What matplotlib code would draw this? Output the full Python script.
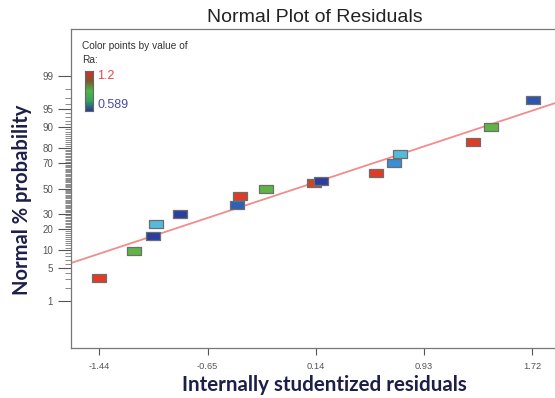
import numpy as np
import matplotlib
matplotlib.use("Agg")
import matplotlib.pyplot as plt
from matplotlib.colors import LinearSegmentedColormap, Normalize
from matplotlib.path import Path
from statistics import NormalDist

# ---- data ----
resid = [-1.444, -1.188, -1.047, -1.028, -0.853, -0.434, -0.415, -0.227,
         0.125, 0.176, 0.576, 0.711, 0.753, 1.288, 1.417, 1.724]
prob_pct = [3.24, 9.7, 16.4, 23.2, 29.6, 36.7, 43.7, 49.7,
            54.9, 56.2, 62.6, 69.9, 76.3, 83.2, 90.0, 96.7]
ra_values = [1.19, 0.90, 0.60, 0.77, 0.60, 0.66, 1.19, 0.90,
             1.12, 0.60, 1.19, 0.72, 0.77, 1.19, 0.90, 0.64]
ra_min, ra_max = 0.589, 1.2

line_x = [-1.648, 1.93]
line_pct = [6.14, 96.48]

x_ticks = [-1.44, -0.65, 0.14, 0.93, 1.72]
x_tick_labels = ["-1.44", "-0.65", "0.14", "0.93", "1.72"]
y_ticks = [1, 5, 10, 20, 30, 50, 70, 80, 90, 95, 99]
y_minor = list(range(2, 99))

# ---- scales ----
nd = NormalDist()

def fwd(p):
    p = np.clip(np.asarray(p, dtype=float), 1e-6, 100 - 1e-6) / 100.0
    return np.vectorize(nd.inv_cdf, otypes=[float])(p)

def inv(z):
    z = np.asarray(z, dtype=float)
    return np.vectorize(nd.cdf, otypes=[float])(z) * 100.0

cmap_pts = LinearSegmentedColormap.from_list(
    "pts", [(0.0, "#2b3a9c"), (0.12, "#2e62b8"), (0.22, "#3a94d8"),
            (0.32, "#5cc8dc"), (0.5, "#5cb846"), (0.8, "#c04a2a"),
            (1.0, "#e23a26")])
cmap_bar = LinearSegmentedColormap.from_list(
    "bar", ["#2a3a9a", "#3aa060", "#4cb848", "#7a5a30", "#e02a2a"])
norm = Normalize(ra_min, ra_max)

fig = plt.figure(figsize=(5.55, 3.98), dpi=100)
ax = fig.add_axes([0.1279, 0.1256, 0.883, 0.8015])
ax.set_yscale("function", functions=(fwd, inv))

# fit line
ax.plot(line_x, line_pct, color="#f28c8c", lw=1.3, zorder=2)

# rectangle marker
rect = Path([(-1, -0.55), (1, -0.55), (1, 0.55), (-1, 0.55), (-1, -0.55)],
            [Path.MOVETO, Path.LINETO, Path.LINETO, Path.LINETO, Path.CLOSEPOLY])
for xv, pv, rv in zip(resid, prob_pct, ra_values):
    ax.plot([xv], [pv], marker=rect, ms=10.2, mfc=cmap_pts(norm(rv)),
            mec="#6e6e6e", mew=0.9, ls="none", zorder=3)

ax.set_xlim(-1.648, 1.93)
ax.set_ylim(0.048, 99.952)
ax.set_xticks(x_ticks)
ax.set_xticklabels(x_tick_labels)
ax.set_yticks(y_ticks)
ax.set_yticklabels([str(t) for t in y_ticks])
ax.set_yticks(y_minor, minor=True)
ax.tick_params(axis="y", which="major", length=9.4, width=0.8, pad=3.5,
               labelsize=7, colors="#555555", labelcolor="#555555")
ax.tick_params(axis="y", which="minor", length=4.3, width=0.6, colors="#777777")
ax.tick_params(axis="x", which="major", length=5, width=0.8, pad=5,
               labelsize=6.7, colors="#555555", labelcolor="#555555")
ax.tick_params(axis="x", which="minor", length=0)
for lab in ax.get_xticklabels() + ax.get_yticklabels():
    lab.set_family("Liberation Sans")
for s in ax.spines.values():
    s.set_color("#777777")
    s.set_linewidth(0.9)

fig.text(0.568, 0.955, "Normal Plot of Residuals", ha="center", va="center",
         fontsize=14, family="Liberation Sans", color="#222222")
fig.text(0.584, 0.033, "Internally studentized residuals", ha="center",
         va="center", fontsize=14.8, family="Lato", weight="bold",
         color="#1c1f48")
fig.text(0.040, 0.497, "Normal % probability", ha="center", va="center",
         rotation=90, fontsize=14.5, family="Lato", weight="bold",
         color="#1c1f48")

# colour legend
fig.text(82 / 555, 1 - 46 / 398, "Color points by value of", ha="left",
         va="center", fontsize=7.3, family="Liberation Sans", color="#333333")
fig.text(82 / 555, 1 - 60 / 398, "Ra:", ha="left", va="center",
         fontsize=7.3, family="Liberation Sans", color="#333333")
cax = fig.add_axes([85 / 555, 1 - 111 / 398, 8 / 555, 40 / 398])
grad = np.linspace(0, 1, 100).reshape(-1, 1)
cax.imshow(grad, aspect="auto", origin="lower", cmap=cmap_bar,
           extent=[0, 1, 0, 1])
cax.set_xticks([])
cax.set_yticks([])
for s in cax.spines.values():
    s.set_color("#666666")
    s.set_linewidth(0.8)
fig.text(97 / 555, 1 - 76 / 398, str(ra_max), ha="left", va="center",
         fontsize=9, family="Liberation Sans", color="#e84848")
fig.text(97 / 555, 1 - 105 / 398, str(ra_min), ha="left", va="center",
         fontsize=9, family="Liberation Sans", color="#4a4aaa")

fig.savefig("out.png", dpi=100)
